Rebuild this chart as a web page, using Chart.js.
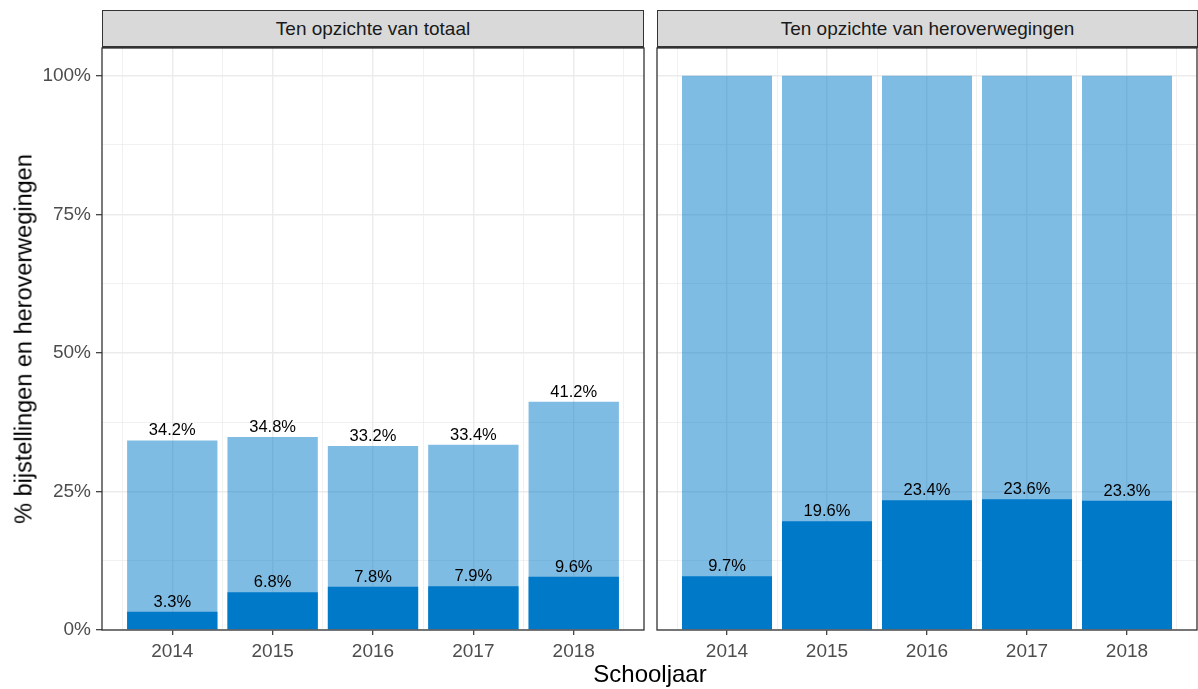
<!DOCTYPE html>
<html><head><meta charset="utf-8">
<script src="https://cdn.jsdelivr.net/npm/chart.js@4"></script>
<style>
body{margin:0;width:1198px;height:689px;position:relative;background:#fff;font-family:"Liberation Sans",Arial,sans-serif;overflow:hidden}
canvas{position:absolute;top:0}
.strip{position:absolute;top:10px;height:38px;box-sizing:border-box;background:#D9D9D9;border:1px solid #333;border-bottom-width:2px;color:#1A1A1A;font-size:19px;text-align:center;line-height:35px;white-space:nowrap}
.ytitle{position:absolute;left:24px;top:339px;transform:translate(-50%,-50%) rotate(-90deg);font-size:23.5px;white-space:nowrap;color:#000}
.xtitle{position:absolute;left:650px;top:662px;transform:translateX(-50%);font-size:24px;line-height:24px;white-space:nowrap;color:#000}
</style></head>
<body>
<canvas id="c1" width="650" height="689" style="left:0"></canvas>
<canvas id="c2" width="548" height="689" style="left:650px"></canvas>
<div class="strip" style="left:102px;width:542px">Ten opzichte van totaal</div>
<div class="strip" style="left:657px;width:541px">Ten opzichte van heroverwegingen</div>
<div class="ytitle">% bijstellingen en heroverwegingen</div>
<div class="xtitle">Schooljaar</div>
<script>
const years = [2014, 2015, 2016, 2017, 2018];
const totaalHeroverwegingen = [34.2, 34.8, 33.2, 33.4, 41.2];
const totaalBijstellingen = [3.3, 6.8, 7.8, 7.9, 9.6];
const heroverwegingenTotaal = [100, 100, 100, 100, 100];
const heroverwegingenBijstellingen = [9.7, 19.6, 23.4, 23.6, 23.3];
const xGridTicks = [2013.5, 2014, 2014.5, 2015, 2015.5, 2016, 2016.5, 2017, 2017.5, 2018, 2018.5];
const yGridTicks = [0, 12.5, 25, 37.5, 50, 62.5, 75, 87.5, 100];

const FONT = '"Liberation Sans", Arial, sans-serif';
const LIGHT = 'rgba(0,121,200,0.5)';
const DARK = '#0079C8';
const GRID = '#EBEBEB';
const tv = c => (c && c.tick) ? c.tick.value : NaN;
const isMajorX = v => Number.isInteger(v);
const isMajorY = v => Number.isFinite(v) && v % 25 === 0;

const labelPlugin = {
  id: 'barLabels',
  afterDatasetsDraw(chart) {
    const ctx = chart.ctx;
    ctx.save();
    ctx.fillStyle = '#000';
    ctx.font = '16.5px ' + FONT;
    ctx.textAlign = 'center';
    ctx.textBaseline = 'alphabetic';
    chart.data.datasets.forEach((ds, i) => {
      if (!ds.showLabels) return;
      const meta = chart.getDatasetMeta(i);
      meta.data.forEach((bar, j) => {
        ctx.fillText(ds.data[j].y.toFixed(1) + '%', bar.x, bar.y - 5);
      });
    });
    ctx.restore();
  }
};
const borderPlugin = {
  id: 'panelBorder',
  afterDraw(chart) {
    const a = chart.chartArea, ctx = chart.ctx;
    ctx.save();
    ctx.strokeStyle = '#333';
    ctx.lineWidth = 1.3;
    ctx.strokeRect(a.left, a.top, a.right - a.left, a.bottom - a.top);
    ctx.restore();
  }
};

function makeChart(id, light, dark, lightLabels, isLeft) {
  const toPts = arr => years.map((y, i) => ({x: y, y: arr[i]}));
  // bar width is relative to the half-year grid spacing (minor ticks), so 1.8 -> 0.9 year
  const barOpts = {barPercentage: 1.8, categoryPercentage: 1, borderWidth: 0};
  return new Chart(document.getElementById(id), {
    type: 'bar',
    data: {
      datasets: [
        Object.assign({data: toPts(dark), backgroundColor: DARK, order: 0, showLabels: true}, barOpts),
        Object.assign({data: toPts(light), backgroundColor: LIGHT, order: 1, showLabels: lightLabels}, barOpts)
      ]
    },
    options: {
      responsive: false,
      animation: false,
      devicePixelRatio: 1,
      layout: {padding: {left: 0, right: isLeft ? 6 : 1, top: 48, bottom: 0}},
      plugins: {legend: {display: false}, tooltip: {enabled: false}},
      scales: {
        x: {
          type: 'linear', min: 2013.3, max: 2018.7, stacked: true, offset: false,
          afterBuildTicks: s => { s.ticks = xGridTicks.map(v => ({value: v})); },
          afterFit: s => { s.height = 59; },
          border: {display: false},
          grid: {
            offset: false,
            color: GRID,
            lineWidth: c => isMajorX(tv(c)) ? 1.4 : 0.7,
            tickColor: c => isMajorX(tv(c)) ? '#333' : 'rgba(0,0,0,0)',
            tickWidth: 1.2, tickLength: 5
          },
          ticks: {
            autoSkip: false, maxRotation: 0, minRotation: 0, padding: 5,
            color: '#4D4D4D', font: {size: 19, family: FONT},
            callback: v => isMajorX(v) ? String(v) : ''
          }
        },
        y: {
          min: 0, max: 105, stacked: false,
          afterBuildTicks: s => { s.ticks = yGridTicks.map(v => ({value: v})); },
          afterFit: s => { s.width = isLeft ? 102 : 7; },
          border: {display: false},
          grid: {
            color: GRID,
            lineWidth: c => isMajorY(tv(c)) ? 1.4 : 0.7,
            tickColor: c => (isLeft && isMajorY(tv(c))) ? '#333' : 'rgba(0,0,0,0)',
            drawTicks: isLeft, tickWidth: 1.2, tickLength: 6
          },
          ticks: {
            display: isLeft, padding: 5,
            color: '#4D4D4D', font: {size: 19, family: FONT},
            callback: v => isMajorY(v) ? v + '%' : ''
          }
        }
      }
    },
    plugins: [labelPlugin, borderPlugin]
  });
}

makeChart('c1', totaalHeroverwegingen, totaalBijstellingen, true, true);
makeChart('c2', heroverwegingenTotaal, heroverwegingenBijstellingen, false, false);
</script>
</body></html>
